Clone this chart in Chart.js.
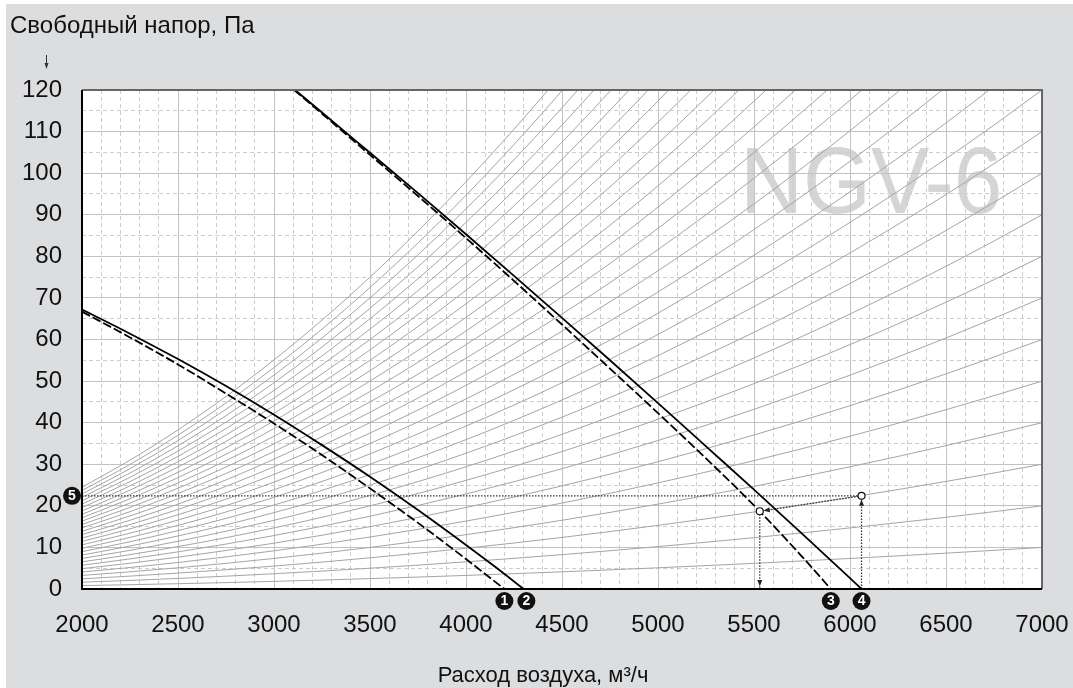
<!DOCTYPE html>
<html lang="ru">
<head>
<meta charset="utf-8">
<title>NGV-6</title>
<script src="https://cdn.jsdelivr.net/npm/chart.js@4.4.1/dist/chart.umd.min.js"></script>
<style>
  html, body { margin: 0; padding: 0; background: #fff; }
  canvas { display: block; }
</style>
</head>
<body>
<canvas id="chart" width="1073" height="688"></canvas>
<script>
// Характеристики вентилятора: расход, м3/ч -> свободный напор, Па
const curve1Flow = [2000, 2250, 2500, 2750, 3000, 3250, 3500, 3750, 4000, 4100, 4200];
const curve1Pres = [66.7, 60.5, 54.0, 47.0, 39.8, 32.2, 24.2, 15.9, 7.2, 3.6, 0];
const curve2Flow = [2000, 2250, 2500, 2750, 3000, 3250, 3500, 3750, 4000, 4150, 4300];
const curve2Pres = [67.2, 61.4, 55.3, 48.8, 41.9, 34.6, 27.0, 19.0, 10.6, 5.4, 0];
const curve3Flow = [3105, 3250, 3500, 3750, 4000, 4250, 4500, 4750, 5000, 5250, 5500, 5750, 5900];
const curve3Pres = [120, 114.3, 104.4, 94.5, 84.4, 74.1, 63.6, 53.0, 42.3, 31.4, 20.1, 7.8, 0];
const curve4Flow = [3110, 3250, 3500, 3750, 4000, 4250, 4500, 4750, 5000, 5250, 5500, 5750, 6000, 6060];
const curve4Pres = [120, 114.6, 104.9, 95.2, 85.3, 75.3, 65.2, 55.0, 44.7, 34.3, 23.9, 13.3, 2.6, 0];

// Характеристики сети: напор при 7000 м3/ч, Па
const systemP = [10, 20, 30, 40, 50, 60, 70, 80, 90, 100, 110, 120, 130, 140, 150,
                 160, 170, 180, 190, 200, 210, 220, 230, 240, 250, 260, 270, 280, 290, 300];
const systemFlow = [2000, 2250, 2500, 2750, 3000, 3250, 3500, 3750, 4000, 4250, 4500,
                    4750, 5000, 5250, 5500, 5750, 6000, 6250, 6500, 6750, 7000];

// Пример подбора: рабочие точки
const workFlow = [6060, 5530];
const workPres = [22.4, 18.7];

const markerLabels = ['1', '2', '3', '4', '5'];

const FONT = "'Liberation Sans', Arial, Helvetica, sans-serif";
const toXY = (xs, ys) => xs.map((x, i) => ({ x, y: ys[i] }));

const fan = (xs, ys, dashed, mark) => ({
  data: toXY(xs, ys), borderColor: '#000', borderWidth: 1.8,
  borderDash: dashed ? [9, 3] : [], pointRadius: 0,
  cubicInterpolationMode: 'monotone', marker: mark, order: 1
});
const dotted = (pts, extra) => Object.assign({
  data: pts, borderColor: '#333', borderWidth: 1.3, borderDash: [1.5, 1.5],
  pointRadius: 0, order: 2
}, extra);

const datasets = [
  fan(curve1Flow, curve1Pres, true, markerLabels[0]),
  fan(curve2Flow, curve2Pres, false, markerLabels[1]),
  fan(curve3Flow, curve3Pres, true, markerLabels[2]),
  fan(curve4Flow, curve4Pres, false, markerLabels[3]),
  { type: 'scatter', data: toXY(workFlow, workPres), pointRadius: 3.5, pointBorderWidth: 1.2,
    pointBackgroundColor: '#fff', pointBorderColor: '#111', order: 0 },
  dotted([{ x: 2000, y: workPres[0] }, { x: workFlow[0], y: workPres[0] }], { startMarker: markerLabels[4] }),
  dotted([{ x: workFlow[0], y: 0 }, { x: workFlow[0], y: workPres[0] }], { arrowGap: 4 }),
  dotted(toXY(workFlow, workPres), { arrowGap: 4 }),
  dotted([{ x: workFlow[1], y: workPres[1] }, { x: workFlow[1], y: 0 }], { arrowGap: 3 })
];
systemP.forEach(P => datasets.push({
  data: systemFlow.map(q => ({ x: q, y: P * (q / 7000) ** 2 })),
  borderColor: '#a5a5a5', borderWidth: 1, pointRadius: 0,
  cubicInterpolationMode: 'monotone', order: 5
}));

const gridDash = step => ctx => (ctx.tick && ctx.tick.value % step !== 0) ? [4, 3] : [];
const gridColor = step => ctx => (ctx.tick && ctx.tick.value % step !== 0) ? '#cdcdcd' : '#c2c2c2';

const decor = {
  id: 'decor',
  beforeDraw(chart) {
    const { ctx, width, height, chartArea: a } = chart;
    ctx.save();
    ctx.fillStyle = '#fff';
    ctx.fillRect(0, 0, width, height);
    ctx.fillStyle = '#dcdddf';
    ctx.fillRect(6, 4, width - 6, height - 4);
    ctx.fillStyle = '#fff';
    ctx.fillRect(a.left, a.top, a.right - a.left, a.bottom - a.top);
    // водяной знак
    ctx.translate(740, 213);
    ctx.scale(0.92, 1);
    ctx.font = '95px ' + FONT;
    ctx.fillStyle = '#d5d5d5';
    ctx.textBaseline = 'alphabetic';
    ctx.fillText('NGV-6', 0, 0);
    ctx.restore();
  },
  afterDatasetsDraw(chart) {
    const { ctx, chartArea: a, scales: { x, y } } = chart;
    ctx.save();
    // рамка
    ctx.lineWidth = 2;
    ctx.strokeStyle = '#666';
    ctx.beginPath();
    ctx.moveTo(a.left, a.top); ctx.lineTo(a.right, a.top); ctx.lineTo(a.right, a.bottom);
    ctx.stroke();
    ctx.strokeStyle = '#000';
    ctx.beginPath();
    ctx.moveTo(a.left, a.top); ctx.lineTo(a.left, a.bottom); ctx.lineTo(a.right, a.bottom);
    ctx.stroke();

    // стрелки
    ctx.fillStyle = '#222';
    chart.data.datasets.forEach((ds, i) => {
      if (ds.arrowGap === undefined) return;
      const pts = chart.getDatasetMeta(i).data;
      const p0 = pts[pts.length - 2], p1 = pts[pts.length - 1];
      const dx = p1.x - p0.x, dy = p1.y - p0.y, len = Math.hypot(dx, dy);
      const ux = dx / len, uy = dy / len;
      const tx = p1.x - ux * ds.arrowGap, ty = p1.y - uy * ds.arrowGap;
      ctx.beginPath();
      ctx.moveTo(tx, ty);
      ctx.lineTo(tx - ux * 6 - uy * 2.5, ty - uy * 6 + ux * 2.5);
      ctx.lineTo(tx - ux * 6 + uy * 2.5, ty - uy * 6 - ux * 2.5);
      ctx.closePath();
      ctx.fill();
    });

    // номерные маркеры
    const badge = (cx, cy, text) => {
      ctx.fillStyle = '#111';
      ctx.beginPath(); ctx.arc(cx, cy, 9, 0, Math.PI * 2); ctx.fill();
      ctx.fillStyle = '#fff';
      ctx.font = 'bold 14px ' + FONT;
      ctx.textAlign = 'center'; ctx.textBaseline = 'middle';
      ctx.fillText(text, cx, cy + 0.5);
    };
    let lastX = -100;
    chart.data.datasets.forEach(ds => {
      if (ds.marker) {
        const last = ds.data[ds.data.length - 1];
        let cx = x.getPixelForValue(last.x);
        if (cx - lastX < 22) cx = lastX + 22;
        lastX = cx;
        badge(cx, a.bottom + 12, ds.marker);
      }
      if (ds.startMarker) badge(a.left - 10, y.getPixelForValue(ds.data[0].y), ds.startMarker);
    });

    // подписи осей
    ctx.fillStyle = '#111';
    ctx.textAlign = 'left'; ctx.textBaseline = 'alphabetic';
    ctx.font = '24px ' + FONT;
    ctx.fillText('Свободный напор, Па', 10, 33);
    ctx.font = '22px ' + FONT;
    ctx.textAlign = 'center';
    ctx.fillText('Расход воздуха, м³/ч', 543, 682);
    ctx.strokeStyle = '#333'; ctx.lineWidth = 1;
    ctx.beginPath(); ctx.moveTo(46.5, 55); ctx.lineTo(46.5, 65); ctx.stroke();
    ctx.fillStyle = '#333';
    ctx.beginPath(); ctx.moveTo(46.5, 69); ctx.lineTo(44.5, 63); ctx.lineTo(48.5, 63); ctx.closePath(); ctx.fill();
    ctx.restore();
  }
};

new Chart(document.getElementById('chart'), {
  type: 'line',
  data: { datasets },
  options: {
    responsive: false,
    animation: false,
    devicePixelRatio: 1,
    layout: { padding: { top: 90, right: 31, left: 0, bottom: 0 } },
    plugins: { legend: { display: false }, tooltip: { enabled: false } },
    scales: {
      x: {
        type: 'linear', min: 2000, max: 7000,
        afterFit: s => { s.height = 99; s.paddingLeft = 0; s.paddingRight = 0; },
        ticks: {
          stepSize: 100, autoSkip: false, maxRotation: 0, padding: 22,
          color: '#111', font: { family: FONT, size: 24 },
          callback: v => (v % 500 === 0 ? v : '')
        },
        grid: { drawTicks: false, color: gridColor(500), lineWidth: 1 },
        border: { display: false, dash: gridDash(500) }
      },
      y: {
        type: 'linear', min: 0, max: 120,
        afterFit: s => { s.width = 82; s.paddingTop = 0; s.paddingBottom = 0; },
        ticks: {
          stepSize: 5, autoSkip: false, padding: 20,
          color: '#111', font: { family: FONT, size: 24 },
          callback: v => (v % 10 === 0 ? v : '')
        },
        grid: { drawTicks: false, color: gridColor(10), lineWidth: 1 },
        border: { display: false, dash: gridDash(10) }
      }
    }
  },
  plugins: [decor]
});
</script>
</body>
</html>
